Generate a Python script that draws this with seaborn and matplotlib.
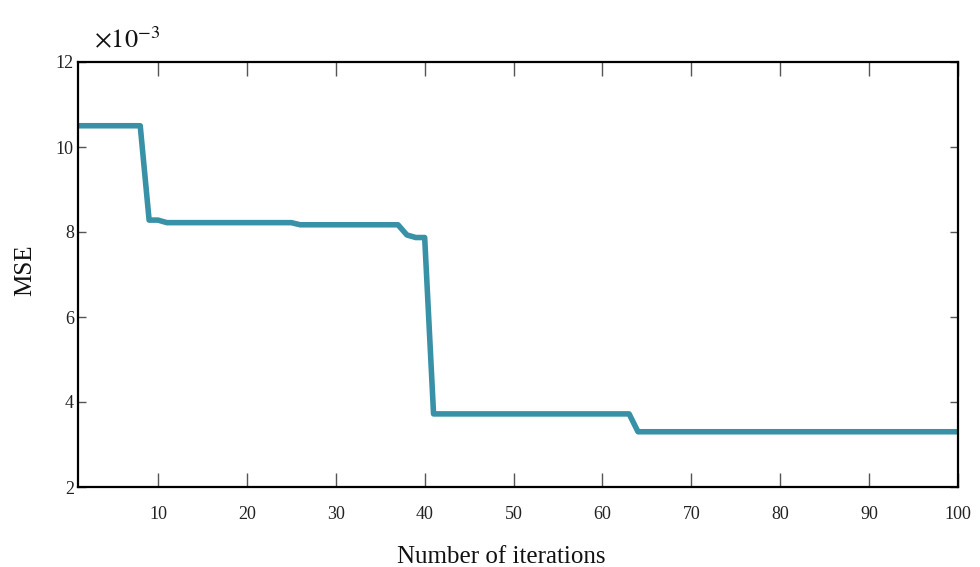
import matplotlib
matplotlib.use("Agg")
import matplotlib.pyplot as plt
import seaborn as sns
import numpy as np
import pandas as pd

# Data (MSE in units of 1e-3)
iterations = list(range(1, 101))
mse_vals = ([10.5] * 8 +            # 1-8
            [8.28, 8.28] +          # 9-10
            [8.22] * 15 +           # 11-25
            [8.17] * 12 +           # 26-37
            [7.93, 7.87, 7.87] +    # 38-40
            [3.72] * 23 +           # 41-63
            [3.30] * 37)            # 64-100
x_ticks = [10, 20, 30, 40, 50, 60, 70, 80, 90, 100]
y_ticks = [2, 4, 6, 8, 10, 12]

df = pd.DataFrame({"iter": iterations, "mse": mse_vals})

sns.set_theme(style="white")
plt.rcParams['font.family'] = ['Liberation Serif', 'DejaVu Serif']
plt.rcParams['mathtext.fontset'] = 'stix'

fig = plt.figure(figsize=(9.8, 5.67), dpi=100)
ax = fig.add_axes([78/980, 1 - 487/567, (958-78)/980, (487-62)/567])

sns.lineplot(data=df, x="iter", y="mse", ax=ax, color="#3891a7", linewidth=4.0,
             solid_capstyle="round", solid_joinstyle="round")

ax.set_xlim(1, 100)
ax.set_ylim(2, 12)
ax.set_xticks(x_ticks)
ax.set_yticks(y_ticks)
ax.set_xticklabels([str(v) for v in x_ticks])
ax.set_yticklabels([str(v) for v in y_ticks])

for s in ax.spines.values():
    s.set_visible(True)
    s.set_color("black")
    s.set_linewidth(1.6)

ax.tick_params(axis='x', direction='in', length=10, width=1.0, color='#555555',
               top=True, bottom=True, labelsize=13, labelcolor='#222222', pad=14)
ax.tick_params(axis='y', direction='in', length=6, width=1.0, color='#555555',
               left=True, right=True, labelsize=13, labelcolor='#222222', pad=3)

ax.set_xlabel("Number of iterations", fontsize=18, color='#111111', va='center')
ax.set_ylabel("MSE", fontsize=18, color='#111111', va='center')
ax.xaxis.set_label_coords((501 - 78) / 880, -(557 - 487) / 425)
ax.yaxis.set_label_coords(-(78 - 25) / 880, (487 - 270) / 425)

fig.text(94/980, 1 - 40/567, r"$\times10^{-3}$", fontsize=19, color='#111111',
         ha='left', va='center')

fig.savefig("out.png", dpi=100, facecolor="white")
